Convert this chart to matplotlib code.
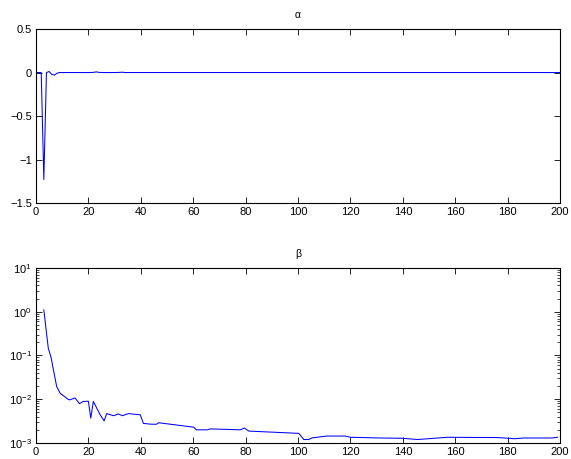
import matplotlib
matplotlib.use("Agg")
import matplotlib.pyplot as plt
from matplotlib.ticker import LogLocator, NullFormatter
import numpy as np

# alpha series (x = 0..200, mostly zero after transient)
alpha_x = [0, 1, 2, 3, 4, 5, 6, 7, 8, 9, 20, 22, 23, 24, 26, 30, 32, 33, 34, 40, 200]
alpha_y = [0, 0, 0, -1.23, 0.0, 0.012, -0.02, -0.03, -0.008, 0, 0, 0.002, 0.008, 0.002, 0, 0, 0.002, 0.004, 0, 0, 0]

# beta series (log scale)
beta_x = [3, 4.7, 5.7, 7.9, 9.2, 12.4, 13, 14.9, 16.6, 18, 20, 20.9, 21.9, 24.5, 26, 27,
          29.6, 31.5, 33, 35.3, 39.8, 41, 43.6, 45.9, 46.8, 60.2, 61.2, 65.3, 66.6, 78,
          79.5, 81.2, 100.3, 102.2, 104, 105.4, 111, 118, 120, 131.5, 140, 145.6, 157,
          176, 180.6, 182.5, 186, 197, 199]
beta_y = [1.1, 0.146, 0.093, 0.0195, 0.0138, 0.0098, 0.0097, 0.0107, 0.0079, 0.0089,
          0.009, 0.0037, 0.0089, 0.0044, 0.0032, 0.0047, 0.0042, 0.0046, 0.0042, 0.0047,
          0.0044, 0.0028, 0.0027, 0.00267, 0.0029, 0.0023, 0.0020, 0.0020, 0.0021, 0.0020,
          0.0022, 0.00187, 0.00166, 0.0012, 0.0012, 0.00131, 0.00144, 0.00144, 0.00135,
          0.0013, 0.00128, 0.0012, 0.00135, 0.00133, 0.00128, 0.00125, 0.0013, 0.0013, 0.00135]

x_ticks = [0, 20, 40, 60, 80, 100, 120, 140, 160, 180, 200]
alpha_yticks = [-1.5, -1, -0.5, 0, 0.5]
alpha_ylabels = ['\u22121.5', '\u22121', '\u22120.5', '0', '0.5']

plt.rcParams['font.family'] = ['Liberation Sans', 'DejaVu Sans']
plt.rcParams['font.size'] = 8
plt.rcParams['mathtext.default'] = 'regular'
plt.rcParams['axes.linewidth'] = 0.8

fig = plt.figure(figsize=(5.71, 4.59), dpi=100)
ax1 = fig.add_axes([0.063, 0.5577, 0.918, 0.379])
ax2 = fig.add_axes([0.063, 0.0349, 0.918, 0.3812])

ax1.plot(alpha_x, alpha_y, color=(0, 0, 1), lw=0.75)
ax1.set_xlim(0, 200)
ax1.set_ylim(-1.5, 0.5)
ax1.set_xticks(x_ticks)
ax1.set_yticks(alpha_yticks)
ax1.set_yticklabels(alpha_ylabels)
ax1.set_title('α', fontsize=7.5, pad=8)

ax2.semilogy(beta_x, beta_y, color=(0, 0, 1), lw=0.75)
ax2.set_xlim(0, 200)
ax2.set_ylim(1e-3, 1e1)
ax2.set_xticks(x_ticks)
ax2.yaxis.set_major_locator(LogLocator(base=10, numticks=10))
ax2.yaxis.set_minor_locator(LogLocator(base=10, subs=np.arange(2, 10), numticks=20))
ax2.yaxis.set_minor_formatter(NullFormatter())
ax2.set_title('β', fontsize=7.5, pad=8)

for ax in (ax1, ax2):
    ax.tick_params(which='major', direction='in', length=4.3, width=0.6,
                   top=True, right=True, pad=3, colors='black')
    ax.tick_params(which='minor', direction='in', length=2.2, width=0.5,
                   top=True, right=True)
    for s in ax.spines.values():
        s.set_color('black')

fig.savefig('out.png', dpi=100, facecolor='white')
